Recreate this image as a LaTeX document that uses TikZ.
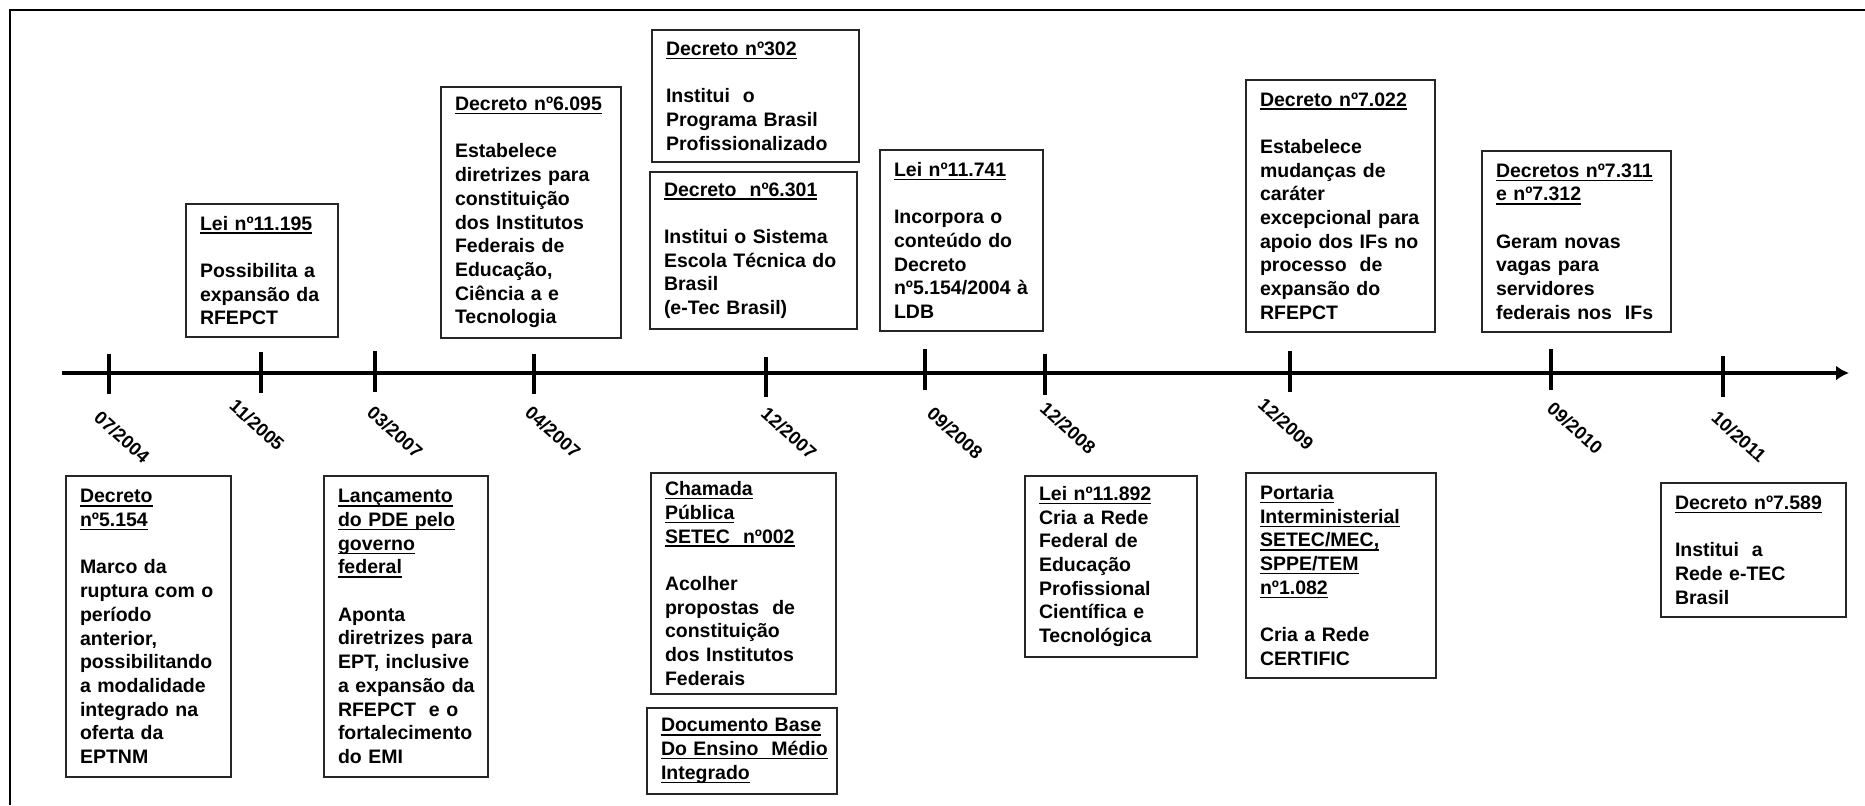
\documentclass[tikz,border=0pt]{standalone}
\usepackage{fontspec}
\setmainfont{Liberation Sans}
\usetikzlibrary{arrows.meta}
\hyphenpenalty=10000 \exhyphenpenalty=10000 \hbadness=10000 \hfuzz=20pt \relax
\newcommand\uln[1]{\leavevmode\setbox0\hbox{#1}\rlap{\rule[-1.9pt]{\wd0}{0.7pt}}\box0}
\newcommand\bgap{\\[11.85pt]}
\tikzset{
  box/.style={draw=black!85, line width=0.7pt, align=left, inner xsep=7pt, inner ysep=0pt,
    font=\bfseries\fontsize{9.75}{11.85}\selectfont},
  datelbl/.style={font=\bfseries\fontsize{9.2}{11}\selectfont, rotate=-42, inner sep=0pt},
  axisline/.style={line width=2pt, -{Latex[length=6.5pt,width=7.5pt]}},
  tickline/.style={line width=1.8pt},
  frameline/.style={line width=1.1pt},
}
\begin{document}
\begin{tikzpicture}[x=0.5pt,y=-0.5pt]
\useasboundingbox (0,0) rectangle (1865,805);
% frame
\draw[frameline] (10,805) -- (10,10) -- (1865,10);
% axis
\coordinate (axs) at (62,373);
\coordinate (axe) at (1849,373);
\draw[axisline] (axs) -- (axe);
% ticks
\draw[tickline] (109,354) -- (109,394);
\draw[tickline] (261,352) -- (261,393);
\draw[tickline] (375,351) -- (375,392);
\draw[tickline] (534,354) -- (534,394);
\draw[tickline] (766,357) -- (766,397);
\draw[tickline] (925,349) -- (925,390);
\draw[tickline] (1045,354) -- (1045,395);
\draw[tickline] (1290,351) -- (1290,392);
\draw[tickline] (1551,349) -- (1551,390);
\draw[tickline] (1723,356) -- (1723,397);
% date labels
\node[datelbl] (d1) at (122,437) {07/2004};
\node[datelbl] (d2) at (257,425) {11/2005};
\node[datelbl] (d3) at (395,432) {03/2007};
\node[datelbl] (d4) at (553,432) {04/2007};
\node[datelbl] (d5) at (789,433) {12/2007};
\node[datelbl] (d6) at (955,433) {09/2008};
\node[datelbl] (d7) at (1068,428) {12/2008};
\node[datelbl] (d8) at (1286,424) {12/2009};
\node[datelbl] (d9) at (1575,428) {09/2010};
\node[datelbl] (d10) at (1739,437) {10/2011};
% top boxes
\node[box, minimum width=76pt, minimum height=66.5pt, text width=62pt] (lei11195) at (262,270.5)
 {\uln{Lei~nº11.195}\bgap Possibilita~a\\expansão~da\\RFEPCT};
\node[box, minimum width=90pt, minimum height=125.5pt, text width=76pt] (dec6095) at (531,212.5)
 {\uln{Decreto~nº6.095}\bgap Estabelece\\diretrizes~para\\constituição\\dos~Institutos\\Federais~de\\Educação,\\Ciência~a~e\\Tecnologia};
\node[box, minimum width=103.5pt, minimum height=66pt, text width=89.5pt] (dec302) at (755.5,96)
 {\uln{Decreto~nº302}\bgap Institui~~o\\Programa~Brasil\\Profissionalizado};
\node[box, minimum width=103.5pt, minimum height=78.5pt, text width=89.5pt] (dec6301) at (753.5,250.5)
 {\uln{Decreto~~nº6.301}\bgap Institui~o~Sistema\\Escola~Técnica~do\\Brasil\\(e-Tec~Brasil)};
\node[box, minimum width=81.5pt, minimum height=90.5pt, text width=67.5pt] (lei11741) at (961.5,240.5)
 {\uln{Lei~nº11.741}\bgap Incorpora~o\\conteúdo~do\\Decreto\\nº5.154/2004~à\\LDB};
\node[box, minimum width=94.5pt, minimum height=126pt, text width=80.5pt] (dec7022) at (1340.5,206)
 {\uln{Decreto~nº7.022}\bgap Estabelece\\mudanças~de\\caráter\\excepcional~para\\apoio~dos~IFs~no\\processo~~de\\expansão~do\\RFEPCT};
\node[box, minimum width=94.5pt, minimum height=90.5pt, text width=80.5pt] (dec7311) at (1576.5,241.5)
 {\uln{Decretos~nº7.311}\\\uln{e~nº7.312}\bgap Geram~novas\\vagas~para\\servidores\\federais~nos~~IFs};
% bottom boxes
\node[box, minimum width=82.5pt, minimum height=150.5pt, text width=68.5pt] (dec5154) at (148.5,626.5)
 {\uln{Decreto}\\\uln{nº5.154}\bgap Marco~da\\ruptura~com~o\\período\\anterior,\\possibilitando\\a~modalidade\\integrado~na\\oferta~da\\EPTNM};
\node[box, minimum width=82pt, minimum height=150.5pt, text width=68pt] (pde) at (406,626.5)
 {\uln{Lançamento}\\\uln{do~PDE~pelo}\\\uln{governo}\\\uln{federal}\bgap Aponta\\diretrizes~para\\EPT,~inclusive\\a~expansão~da\\RFEPCT~~e~o\\fortalecimento\\do~EMI};
\node[box, minimum width=92.5pt, minimum height=110.5pt, text width=78.5pt] (chamada) at (743.5,583.5)
 {\uln{Chamada}\\\uln{Pública}\\\uln{SETEC~~nº002}\bgap Acolher\\propostas~~de\\constituição\\dos~Institutos\\Federais};
\node[box, minimum width=95pt, minimum height=43pt, text width=81pt] (docbase) at (742,751)
 {\uln{Documento~Base}\\\uln{Do~Ensino~~Médio}\\\uln{Integrado}};
\node[box, minimum width=86pt, minimum height=90.5pt, text width=72pt] (lei11892) at (1111,566.5)
 {\uln{Lei~nº11.892}\\Cria~a~Rede\\Federal~de\\Educação\\Profissional\\Científica~e\\Tecnológica};
\node[box, minimum width=95pt, minimum height=102.5pt, text width=81pt] (portaria) at (1341,575.5)
 {\uln{Portaria}\\\uln{Interministerial}\\\uln{SETEC/MEC,}\\\uln{SPPE/TEM}\\\uln{nº1.082}\bgap Cria~a~Rede\\CERTIFIC};
\node[box, minimum width=92.5pt, minimum height=67pt, text width=78.5pt] (dec7589) at (1753.5,550)
 {\uln{Decreto~nº7.589}\bgap Institui~~a\\Rede~e-TEC\\Brasil};
\end{tikzpicture}
\end{document}
